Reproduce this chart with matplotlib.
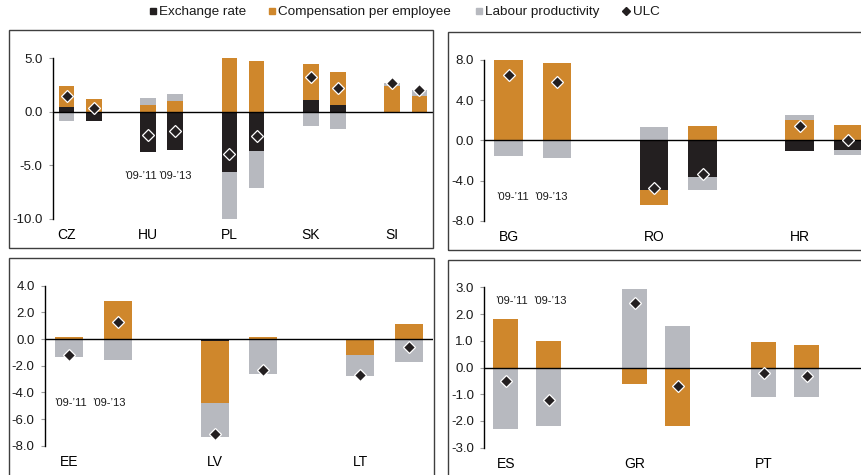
import matplotlib
matplotlib.use("Agg")
import matplotlib.pyplot as plt
from matplotlib.patches import Rectangle
from matplotlib.lines import Line2D
import numpy as np

plt.rcParams['font.family'] = ['Liberation Sans', 'DejaVu Sans']
plt.rcParams['axes.unicode_minus'] = False

# Colours
C_ER = '#231f20'
C_COMP = '#cf872c'
C_LP = '#b7b9bf'
C_BORDER = '#3f3f3f'

periods = ["’09-’11", "’09-’13"]

# Central Europe
ce_countries = ['CZ', 'HU', 'PL', 'SK', 'SI']
ce_er = [[0.4, -0.9], [-3.8, -3.6], [-5.6, -3.7], [1.1, 0.6], [0.0, 0.0]]
ce_comp = [[2.0, 1.2], [0.6, 1.0], [5.0, 4.75], [3.4, 3.1], [2.4, 1.5]]
ce_lp = [[-0.9, 0.0], [0.65, 0.7], [-4.4, -3.4], [-1.3, -1.6], [0.3, 0.5]]
ce_ulc = [[1.5, 0.35], [-2.2, -1.8], [-3.95, -2.3], [3.25, 2.25], [2.7, 2.0]]

# South-east Europe
se_countries = ['BG', 'RO', 'HR']
se_er = [[0.0, 0.0], [-4.9, -3.65], [-1.05, -1.0]]
se_comp = [[8.0, 7.7], [-1.55, 1.4], [2.0, 1.5]]
se_lp = [[-1.6, -1.75], [1.3, -1.25], [0.5, -0.45]]
se_ulc = [[6.55, 5.85], [-4.75, -3.4], [1.45, 0.05]]

# Baltics
bl_countries = ['EE', 'LV', 'LT']
bl_er = [[0.0, 0.0], [-0.15, 0.0], [0.0, 0.0]]
bl_comp = [[0.15, 2.85], [-4.65, 0.15], [-1.2, 1.15]]
bl_lp = [[-1.35, -1.6], [-2.55, -2.6], [-1.6, -1.7]]
bl_ulc = [[-1.2, 1.3], [-7.1, -2.3], [-2.7, -0.6]]

# Southern euro area
sp_countries = ['ES', 'GR', 'PT']
sp_er = [[0.0, 0.0], [0.0, 0.0], [0.0, 0.0]]
sp_comp = [[1.83, 1.0], [-0.6, -2.2], [0.94, 0.84]]
sp_lp = [[-2.3, -2.2], [2.93, 1.55], [-1.1, -1.1]]
sp_ulc = [[-0.5, -1.2], [2.4, -0.7], [-0.2, -0.3]]

W, H = 861, 475
fig = plt.figure(figsize=(W / 100, H / 100), dpi=100)


def px_box(l, t, r, b):
    return [l / W, 1 - b / H, (r - l) / W, (b - t) / H]


def frame(l, t, r, b):
    fig.add_artist(Rectangle((l / W, 1 - b / H), (r - l) / W, (b - t) / H,
                             transform=fig.transFigure, fill=False,
                             edgecolor=C_BORDER, linewidth=1.0))


def panel(rect, countries, er, comp, lp, ulc, ylim, yticks, xmax,
          per_x, per_y, width=0.58):
    ax = fig.add_axes(px_box(*rect))
    n = len(countries)
    xs = np.array([[3 * i, 3 * i + 1] for i in range(n)], dtype=float)
    x = xs.ravel()
    comps = [np.array(er, float).ravel(), np.array(comp, float).ravel(),
             np.array(lp, float).ravel()]
    colors = [C_ER, C_COMP, C_LP]
    pos_base = np.zeros_like(x)
    neg_base = np.zeros_like(x)
    for vals, col in zip(comps, colors):
        pos = np.where(vals > 0, vals, 0)
        neg = np.where(vals < 0, vals, 0)
        ax.bar(x, pos, width, bottom=pos_base, color=col, linewidth=0, zorder=2)
        ax.bar(x, neg, width, bottom=neg_base, color=col, linewidth=0, zorder=2)
        pos_base += pos
        neg_base += neg
    ax.axhline(0, color='black', linewidth=1.0, zorder=3)
    ax.plot(x, np.array(ulc, float).ravel(), 'D', ls='none', ms=6.3,
            mfc=C_ER, mec='white', mew=0.9, zorder=5)

    ax.set_xlim(-0.5, xmax)
    ax.set_ylim(*ylim)
    ax.set_yticks(yticks)
    ax.set_yticklabels([f'{v:.1f}' for v in yticks])
    ax.set_xticks([])
    for s in ('top', 'right', 'bottom'):
        ax.spines[s].set_visible(False)
    ax.spines['left'].set_color('black')
    ax.spines['left'].set_linewidth(1.0)
    ax.tick_params(axis='y', direction='out', length=3, width=0.8,
                   color='#9a9a9a', pad=4.5, labelsize=9.5, labelcolor='#1a1a1a')
    ax.patch.set_alpha(0)

    for i, c in enumerate(countries):
        ax.annotate(c, xy=(xs[i, 0], 0), xycoords=('data', 'axes fraction'),
                    xytext=(0, -12), textcoords='offset points',
                    ha='center', va='center', fontsize=10, color='black')
    for px, lab in zip(per_x, periods):
        ax.text(px, per_y, lab, ha='center', va='center', fontsize=8,
                color='#1a1a1a')
    return ax


# Panel frames
frame(9, 30, 433.5, 247.7)
frame(448.3, 32.3, 880, 250)
frame(9, 257.7, 434.5, 490)
frame(448.3, 260, 880, 490)

panel((53, 58.3, 433, 218.7), ce_countries, ce_er, ce_comp, ce_lp, ce_ulc,
      (-10, 5), [-10, -5, 0, 5], 13.5, [2.72, 4.0], -6.0)
panel((484.3, 60, 872.3, 220.7), se_countries, se_er, se_comp, se_lp, se_ulc,
      (-8, 8), [-8, -4, 0, 4, 8], 7.5, [0.08, 0.88], -5.6)
panel((45, 285.7, 433, 445.7), bl_countries, bl_er, bl_comp, bl_lp, bl_ulc,
      (-8, 4), [-8, -6, -4, -2, 0, 2, 4], 7.5, [0.02, 0.82], -4.78)
panel((484.3, 287.3, 871.3, 447.7), sp_countries, sp_er, sp_comp, sp_lp, sp_ulc,
      (-3, 3), [-3, -2, -1, 0, 1, 2, 3], 8.5, [0.14, 1.03], 2.5)

# Legend across the top
legend_items = [
    ('Exchange rate', C_ER, 's', 152.5, 159),
    ('Compensation per employee', C_COMP, 's', 271.5, 278),
    ('Labour productivity', C_LP, 's', 478.5, 485),
    ('ULC', C_ER, 'D', 626, 633),
]
ly = 1 - 11.7 / H
for label, col, mk, mx, tx in legend_items:
    ms = 5.0 if mk == 's' else 4.2
    fig.add_artist(Line2D([mx / W], [1 - 11.4 / H], marker=mk, ms=ms,
                          mfc=col, mec=col, ls='none',
                          transform=fig.transFigure))
    fig.text(tx / W, ly, label, ha='left', va='center', fontsize=9.7,
             color='#1a1a1a')

fig.savefig('out.png', dpi=100)
